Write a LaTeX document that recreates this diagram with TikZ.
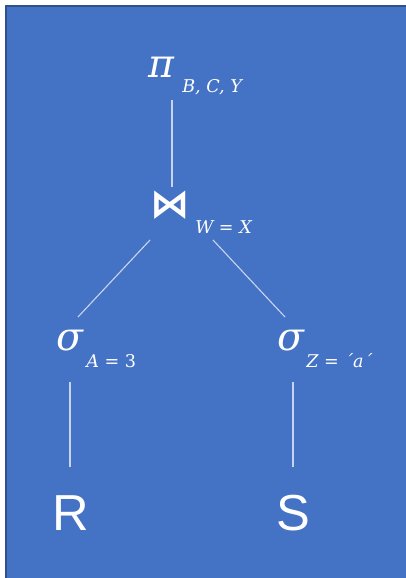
\documentclass[tikz,border=0pt]{standalone}
\usepackage{fontspec}
\newfontfamily\relfont{Liberation Sans}
\newfontfamily\opfont{DejaVu Serif}
\newfontfamily\joinfont{DejaVu Sans}
\usepackage{tikz}

\definecolor{slideblue}{HTML}{4472C4}
\definecolor{slideedge}{HTML}{2F528F}

\begin{document}
\begin{tikzpicture}[x=0.025cm, y=-0.025cm,
    op/.style={inner sep=0pt, text=white, font=\opfont\itshape\fontsize{28}{32}\selectfont},
    sub/.style={inner sep=0pt, anchor=base west, text=white, font=\opfont\itshape\fontsize{12.5}{15}\selectfont},
    rel/.style={inner sep=0pt, text=white, font=\relfont\fontsize{36}{40}\selectfont},
    edge/.style={draw=white, draw opacity=0.7, line width=0.8pt}]
    \useasboundingbox (0, 0) rectangle (406, 578);

    % Slide background
    \fill[white] (0, 0) rectangle (406, 578);
    \filldraw[fill=slideblue, draw=slideedge, line width=1.2pt] (6, 6) rectangle (412, 584);

    % Operators of the query tree
    \node[op] (pi) at (161, 67) {π};
    \node[sub] (pisub) at (182, 92) {B, C, Y};

    \node[op, font=\joinfont\bfseries\fontsize{28}{32}\selectfont] (join) at (170, 205) {⋈};
    \node[sub] (joinsub) at (195, 233) {W {\upshape=} X};

    \node[op] (selA) at (70, 341) {σ};
    \node[sub] (selAsub) at (86, 367) {A {\upshape= 3}};

    \node[op] (selZ) at (291, 341) {σ};
    \node[sub] (selZsub) at (306, 367) {Z {\upshape=} ´a´};

    % Relations
    \node[rel] (relR) at (71, 513) {R};
    \node[rel] (relS) at (293, 513) {S};

    % Tree edges
    \draw[edge] ([shift={(11, 33)}]pi.center) -- ([shift={(2, -18)}]join.center);
    \draw[edge] ([shift={(-20, 35)}]join.center) -- ([shift={(8, -24)}]selA.center);
    \draw[edge] ([shift={(43, 35)}]join.center) -- ([shift={(-6, -24)}]selZ.center);
    \draw[edge] ([shift={(0, 41)}]selA.center) -- ([shift={(-1, -46)}]relR.center);
    \draw[edge] ([shift={(2, 41)}]selZ.center) -- ([shift={(0, -46)}]relS.center);
\end{tikzpicture}
\end{document}
